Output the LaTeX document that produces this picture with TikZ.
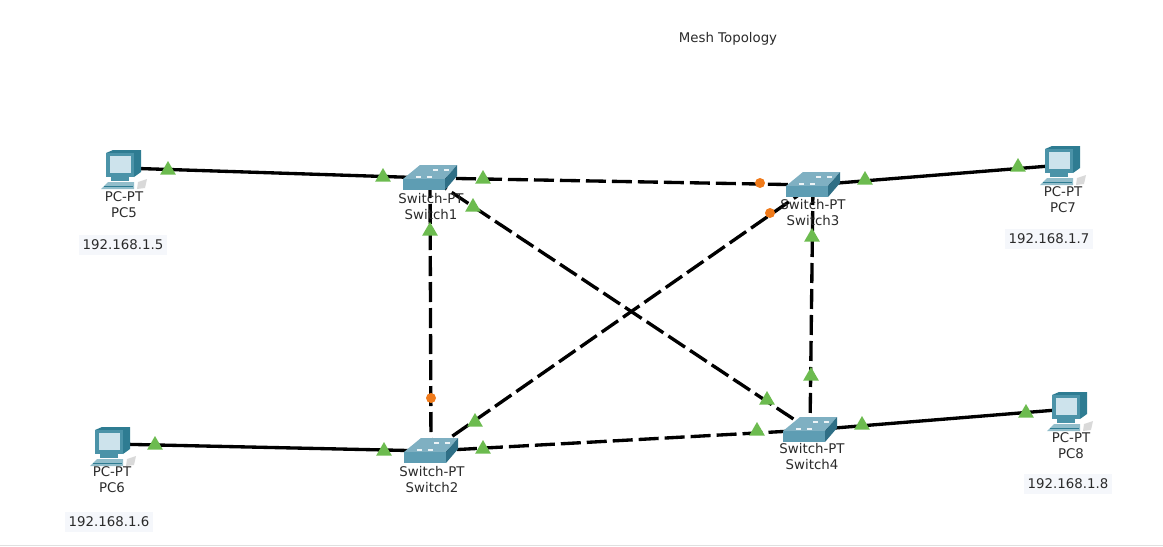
\documentclass[tikz,border=0pt]{standalone}
\usepackage{fontspec}
\setmainfont{DejaVu Sans}
\usepackage{tikz}
\usetikzlibrary{shapes,positioning}

\definecolor{swtop}{HTML}{7FB0C2}
\definecolor{swfront}{HTML}{5E9DB3}
\definecolor{swside}{HTML}{2F6F86}
\definecolor{pcframe}{HTML}{4B93A8}
\definecolor{pcside}{HTML}{2E7C92}
\definecolor{pcscreen}{HTML}{CDE3EC}
\definecolor{upgreen}{HTML}{6CBB4F}
\definecolor{downorange}{HTML}{F07A1A}
\definecolor{chipbg}{HTML}{F5F7FB}
\definecolor{labeltext}{HTML}{2A2A2A}

\tikzset{
    hub/.style={inner sep=0pt,minimum width=40pt,minimum height=18pt},
    wire/.style={line width=2.5pt,black},
    trunk/.style={wire,dash pattern=on 15pt off 4.5pt},
    linkup/.style={regular polygon,regular polygon sides=3,fill=upgreen,inner sep=0pt,minimum size=13.5pt},
    linkdown/.style={circle,fill=downorange,inner sep=0pt,minimum size=7.5pt},
    devtext/.style={font=\fontsize{10}{12}\selectfont,text=labeltext,inner sep=0pt},
    iptext/.style={devtext,fill=chipbg,inner xsep=2.5pt,inner ysep=4pt},
    switchicon/.pic={
        \fill[swtop] (-27,1) -- (-10,-13) -- (27,-13) -- (15,1) -- cycle;
        \fill[swfront] (-27,1) rectangle (15,12);
        \fill[swside] (15,1) -- (27,-13) -- (27,-2) -- (15,12) -- cycle;
        \foreach \mx/\my in {-14/-2,-3/-2,3/-9,14/-9} {
            \fill[white!85!swtop] (\mx,\my) rectangle ++(5,1.5);
        }
    },
    pcicon/.pic={
        \fill[pcside] (-17,-15) -- (-10,-18) -- (18,-18) -- (18,4) -- (11,9) -- (11,-15) -- cycle;
        \fill[pcframe] (-17,-15) rectangle (11,9);
        \fill[pcscreen] (-13,-12) rectangle (8,5);
        \fill[pcframe] (-12,9) rectangle (6,13);
        \fill[pcframe!60!white] (-22,21) -- (-15,14) -- (11,14) -- (11,21) -- cycle;
        \draw[pcside,line width=0.6pt] (-19,18) -- (10,18);
        \fill[black!15] (15,14) -- (24,11) -- (22,20) -- (14,21) -- cycle;
    }
}

\begin{document}
\begin{tikzpicture}[x=0.75pt,y=-0.75pt]
    \useasboundingbox (0,0) rectangle (1163,546);
    \fill[black!12] (0,544.5) rectangle (1163,546);

    % Devices
    \node[hub] (pc5) at (123,168) {};
    \node[hub] (pc6) at (112,444) {};
    \node[hub] (pc7) at (1062,165) {};
    \node[hub] (pc8) at (1069,409) {};
    \node[hub] (sw1) at (430,178) {};
    \node[hub] (sw2) at (431,451) {};
    \node[hub] (sw3) at (813,185) {};
    \node[hub] (sw4) at (810,430) {};

    % Links to the PCs
    \draw[wire] (pc5.center) -- (sw1.center);
    \draw[wire] (pc6.center) -- (sw2.center);
    \draw[wire] (sw3.center) -- (pc7.center);
    \draw[wire] (sw4.center) -- (pc8.center);

    % Mesh between the switches
    \draw[trunk] (sw1.center) -- (sw3.center);
    \draw[trunk] (sw1.center) -- (sw2.center);
    \draw[trunk] (sw1.center) -- (sw4.center);
    \draw[trunk] (sw2.center) -- (sw3.center);
    \draw[trunk] (sw2.center) -- (sw4.center);
    \draw[trunk] (sw3.center) -- (sw4.center);

    % Icons
    \foreach \sw in {sw1,sw2,sw3,sw4} {
        \pic at (\sw) {switchicon};
    }
    \pic at (123,168) {pcicon};
    \pic at (112,445) {pcicon};
    \pic at (1062,164) {pcicon};
    \pic at (1069,410) {pcicon};

    % Port lights
    \foreach \x/\y [count=\i] in {168/170,383/177,483/179,473/207,865/180,1018/167,
        430/231,812/237,811/376,767/400,757/431,862/425,1026/413,155/445,384/451,483/449,475/422} {
        \node[linkup] (up\i) at (\x,\y) {};
    }
    \foreach \x/\y [count=\i] in {760/183,770/213,431/398} {
        \node[linkdown] (down\i) at (\x,\y) {};
    }

    % Labels
    \node[devtext] (title) at (728,39) {Mesh Topology};
    \node[devtext,align=center] (lab1) at (431,207) {Switch-PT\\Switch1};
    \node[devtext,align=center] (lab2) at (432,480) {Switch-PT\\Switch2};
    \node[devtext,align=center] (lab3) at (813,213) {Switch-PT\\Switch3};
    \node[devtext,align=center] (lab4) at (812,457) {Switch-PT\\Switch4};
    \node[devtext,align=center] (lab5) at (124,205) {PC-PT\\PC5};
    \node[devtext,align=center] (lab6) at (112,480) {PC-PT\\PC6};
    \node[devtext,align=center] (lab7) at (1063,200) {PC-PT\\PC7};
    \node[devtext,align=center] (lab8) at (1071,446) {PC-PT\\PC8};
    \node[iptext] (ip5) at (123,245) {192.168.1.5};
    \node[iptext] (ip6) at (109,522) {192.168.1.6};
    \node[iptext] (ip7) at (1049,239) {192.168.1.7};
    \node[iptext] (ip8) at (1068,484) {192.168.1.8};
\end{tikzpicture}
\end{document}
